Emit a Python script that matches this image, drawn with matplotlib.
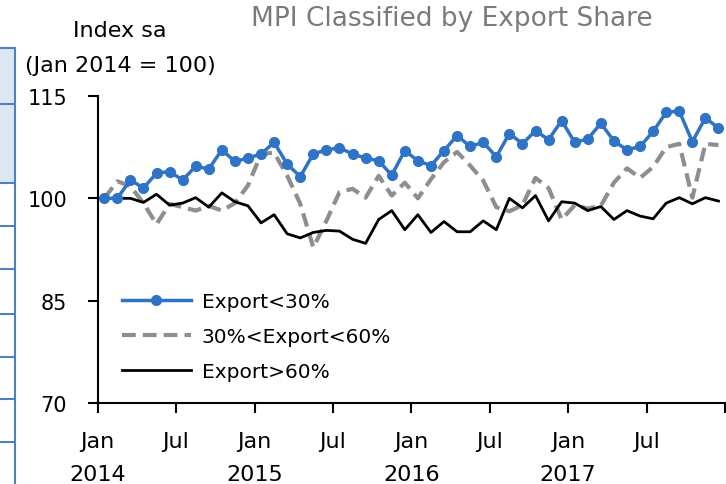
import matplotlib
matplotlib.use('Agg')
import matplotlib.pyplot as plt
import numpy as np
from matplotlib.patches import Rectangle
from matplotlib.lines import Line2D

# monthly index, Jan 2014 .. Dec 2017 (Jan 2014 = 100)
export_lt30 = [100.0, 100.0, 102.7, 101.5, 103.7, 103.9, 102.7, 104.7, 104.3, 107.1, 105.4, 105.9,
               106.5, 108.2, 105.0, 103.2, 106.5, 107.1, 107.4, 106.5, 105.9, 105.5, 103.4, 107.0,
               105.5, 104.8, 107.0, 109.2, 107.6, 108.2, 106.1, 109.5, 108.0, 109.9, 108.6, 111.4,
               108.2, 108.7, 111.0, 108.4, 107.1, 107.6, 109.8, 112.6, 112.8, 108.3, 111.8, 110.3]
export_30_60 = [100.0, 102.5, 101.8, 99.3, 96.2, 99.2, 98.7, 98.2, 98.9, 98.2, 99.3, 101.9,
                106.5, 106.7, 103.3, 99.2, 92.8, 96.7, 100.9, 101.4, 100.1, 103.3, 100.4, 102.3,
                100.0, 102.8, 105.3, 106.8, 104.8, 102.6, 98.7, 98.1, 99.0, 103.0, 101.5, 96.9,
                99.0, 98.5, 98.9, 102.3, 104.4, 103.0, 104.6, 107.5, 108.0, 100.1, 108.0, 107.8]
export_gt60 = [100.0, 100.0, 100.0, 99.4, 100.6, 99.0, 99.3, 100.1, 98.7, 100.8, 99.5, 98.9,
               96.4, 97.6, 94.8, 94.2, 95.0, 95.3, 95.2, 94.0, 93.4, 96.9, 98.2, 95.4,
               97.6, 95.0, 96.6, 95.1, 95.1, 96.7, 95.4, 100.0, 98.6, 100.4, 96.7, 99.5,
               99.3, 98.2, 98.8, 96.9, 98.2, 97.4, 97.0, 99.3, 100.1, 99.2, 100.1, 99.6]
month_labels = ['Jan\n2014', 'Jul', 'Jan\n2015', 'Jul', 'Jan\n2016', 'Jul', 'Jan\n2017', 'Jul', '']
y_ticks = [70, 85, 100, 115]

x = np.arange(len(export_lt30)) + 0.5

fig = plt.figure(figsize=(7.26, 4.85), dpi=100)
ax = fig.add_axes([97.7 / 726, 81 / 485, (725 - 97.7) / 726, 307 / 485])

ax.plot(x, export_30_60, color='#8e8e8e', lw=3, dashes=(3.3, 1.7), label='30%<Export<60%')
ax.plot(x, export_gt60, color='black', lw=2, label='Export>60%')
ax.plot(x, export_lt30, color='#2e73c6', lw=2.5, marker='o', ms=7, label='Export<30%')

ax.set_xlim(0, 48)
ax.set_ylim(70, 115)
ax.set_xticks(np.arange(0, 49, 6))
ax.set_xticklabels(month_labels, fontsize=16, linespacing=1.85)
ax.set_yticks(y_ticks)
ax.set_yticklabels([str(v) for v in y_ticks], fontsize=15)
ax.tick_params(axis='both', direction='out', length=7, width=1.5, colors='black')
ax.tick_params(axis='x', pad=13)
ax.tick_params(axis='y', pad=15)
for s in ['top', 'right']:
    ax.spines[s].set_visible(False)
for s in ['left', 'bottom']:
    ax.spines[s].set_linewidth(1.5)

handles = [
    Line2D([], [], color='#2e73c6', lw=2.5, marker='o', ms=7),
    Line2D([], [], color='#8e8e8e', lw=3, dashes=(3.3, 1.7)),
    Line2D([], [], color='black', lw=2),
]
ax.legend(handles, ['Export<30%', '30%<Export<60%', 'Export>60%'], loc='upper left',
          bbox_to_anchor=(0.01, 0.42), frameon=False, fontsize=14.5, handlelength=3.4,
          handletextpad=0.55, labelspacing=0.8)

fig.text(452 / 726, 1 - 19 / 485, 'MPI Classified by Export Share', color='#7a7a7a',
         fontsize=19, ha='center', va='center')
fig.text(120 / 726, 1 - 31 / 485, 'Index sa', fontsize=16, ha='center', va='center')
fig.text(25 / 726, 1 - 66 / 485, '(Jan 2014 = 100)', fontsize=16, ha='left', va='center')

# cropped table edge on the left
fig.patches.append(Rectangle((0, 1 - 184 / 485), 15 / 726, (184 - 49) / 485,
                             transform=fig.transFigure, facecolor='#dde6f3', edgecolor='none'))
fig.add_artist(Line2D([15 / 726, 15 / 726], [0, 1 - 49 / 485], transform=fig.transFigure,
                      color='#4f81bd', lw=1.5))
for yy in [49, 105, 184, 227, 270, 315, 358, 400, 443]:
    fig.add_artist(Line2D([0, 15 / 726], [1 - yy / 485] * 2, transform=fig.transFigure,
                          color='#4f81bd', lw=1.5))

fig.savefig('out.png', dpi=100)
